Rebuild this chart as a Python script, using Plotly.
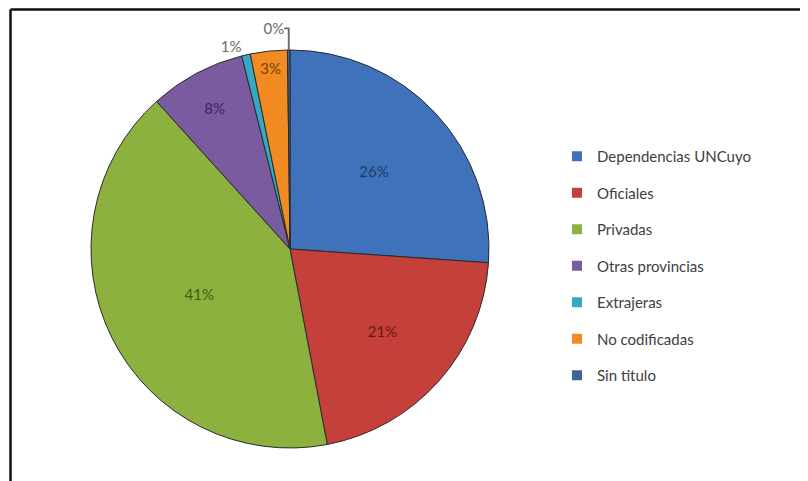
import plotly.graph_objects as go

categories = ["Dependencias UNCuyo", "Oficiales", "Privadas", "Otras provincias",
              "Extrajeras", "No codificadas", "Sin titulo"]
values = [26.1, 20.9, 41.3, 7.8, 0.7, 3.0, 0.2]
colors = ["#3F72BA", "#C5403A", "#8CB13E", "#7A5BA0", "#36A8C4", "#F28C22", "#3E6499"]
label_colors = ["#1F3B66", "#6B1612", "#3F5A15", "#3A2560", "#666666", "#7A3D05", "#666666"]
positions = ["inside", "inside", "inside", "inside", "outside", "inside", "outside"]

# page body has an 8px margin: work in reference pixels shifted by 8
W, H = 800, 473
OFF = 8
cx, cy, R = 290 - OFF, 249 - OFF, 199

fig = go.Figure()

fig.add_trace(go.Pie(
    labels=categories, values=values, sort=False, direction="clockwise", rotation=0,
    marker=dict(colors=colors, line=dict(color="#2a2a2a", width=1)),
    texttemplate="%{percent:.0%}", textposition=positions,
    insidetextorientation="horizontal",
    textfont=dict(family="Lato", size=15, color=label_colors),
    outsidetextfont=dict(family="Lato", size=15, color="#6a6a6a"),
    showlegend=False, hoverinfo="label+percent",
    domain=dict(x=[(cx - R) / W, (cx + R) / W],
                y=[(H - cy - R - 1) / H, (H - cy + R + 1) / H]),
))

for name, col in zip(categories, colors):
    fig.add_trace(go.Scatter(
        x=[None], y=[None], mode="markers", name=name, legendgroup=name,
        marker=dict(symbol="square", size=10, color=col, line=dict(width=0)),
    ))

top_y = 1 - (9.5 - OFF) / H
left_x = (10.5 - OFF) / W
fig.add_shape(type="line", xref="paper", yref="paper",
              x0=left_x, x1=1, y0=top_y, y1=top_y,
              line=dict(color="#111111", width=2.5))
fig.add_shape(type="line", xref="paper", yref="paper",
              x0=left_x, x1=left_x, y0=0, y1=top_y,
              line=dict(color="#111111", width=2.5))

fig.update_layout(
    width=W, height=H, margin=dict(l=0, r=0, t=0, b=0),
    paper_bgcolor="white", plot_bgcolor="white",
    xaxis=dict(visible=False), yaxis=dict(visible=False),
    legend=dict(x=549 / W, y=1 - 132 / H, xanchor="left", yanchor="top",
                font=dict(family="Lato", size=15, color="#404040"),
                tracegroupgap=14, itemwidth=30, bgcolor="rgba(0,0,0,0)"),
    font=dict(family="Lato"),
)

fig.write_html("out.html")
